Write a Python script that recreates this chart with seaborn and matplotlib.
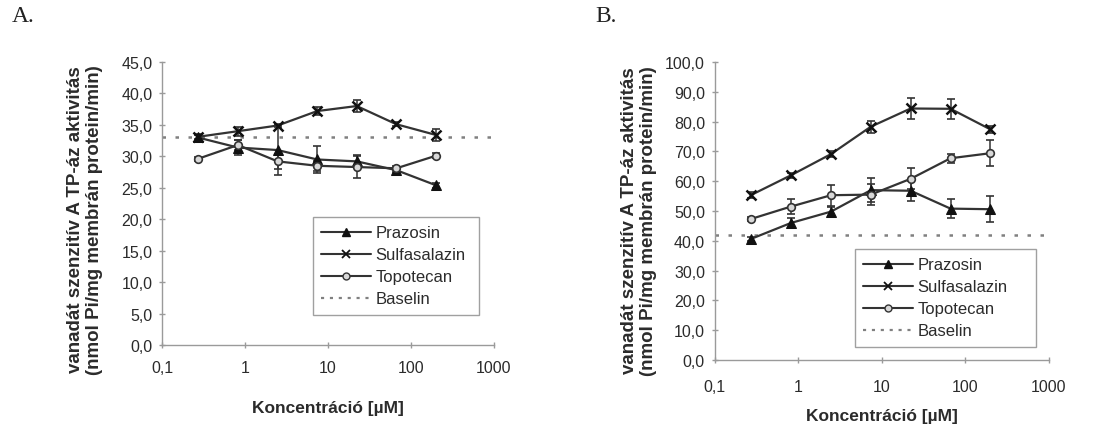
import numpy as np
import pandas as pd
import matplotlib
matplotlib.use("Agg")
import matplotlib.pyplot as plt
import seaborn as sns
from matplotlib.lines import Line2D

conc = [0.27, 0.82, 2.47, 7.41, 22.2, 66.7, 200.0]
drugs = ["Prazosin", "Sulfasalazin", "Topotecan"]

# Panel A
a_prazosin = [33.0, 31.4, 31.0, 29.5, 29.2, 27.8, 25.4]
a_prazosin_err = [0.4, 1.2, 4.0, 2.2, 1.0, 0.3, 0.4]
a_sulfa = [33.1, 34.0, 34.9, 37.2, 38.0, 35.1, 33.4]
a_sulfa_err = [0.4, 0.7, 0.3, 0.7, 1.0, 0.3, 1.0]
a_topo = [29.6, 31.8, 29.2, 28.5, 28.3, 28.1, 30.1]
a_topo_err = [0.3, 0.8, 1.2, 0.8, 1.8, 0.3, 0.4]
a_baseline = 33.0

# Panel B
b_prazosin = [40.6, 46.0, 49.8, 57.0, 56.8, 50.8, 50.6]
b_prazosin_err = [0.8, 1.6, 1.5, 4.0, 3.3, 3.3, 4.3]
b_sulfa = [55.3, 62.0, 69.1, 78.3, 84.4, 84.3, 77.4]
b_sulfa_err = [1.0, 0.8, 1.0, 2.0, 3.5, 3.3, 1.2]
b_topo = [47.3, 51.5, 55.3, 55.5, 60.8, 67.7, 69.4]
b_topo_err = [0.8, 2.4, 3.5, 3.5, 3.5, 1.5, 4.3]
b_baseline = 42.0

ylabel = "vanadát szenzitív A TP-áz aktivitás\n(nmol Pi/mg membrán protein/min)"
xlabel = "Koncentráció [µM]"
xticks = [0.1, 1, 10, 100, 1000]
xticklabels = ["0,1", "1", "10", "100", "1000"]

sns.set_theme(style="white")
plt.rcParams["font.family"] = ["Liberation Sans", "DejaVu Sans"]

TXT = "#2b2b2b"
LINE = "#333333"
AX = "#9a9a9a"

fig = plt.figure(figsize=(10.97, 4.31), dpi=100)
axA = fig.add_axes([0.1477, 0.1972, 0.3026, 0.6566])
axB = fig.add_axes([0.6515, 0.1624, 0.3045, 0.6914])

styles = {
    "Prazosin": dict(marker="^", markersize=6.5, markerfacecolor="#111111",
                     markeredgecolor="#111111"),
    "Sulfasalazin": dict(marker="x", markersize=6.5, markeredgecolor="#111111",
                         markeredgewidth=1.8),
    "Topotecan": dict(marker="o", markersize=5.5, markerfacecolor="#d8d8d8",
                      markeredgecolor=LINE, markeredgewidth=1.2),
}


def draw(ax, pz, pze, sf, sfe, tp, tpe, base, ymax, ystep, leg_box,
         tpad, xlpad, ylcoords):
    for d, vals, errs in [("Prazosin", pz, pze), ("Sulfasalazin", sf, sfe), ("Topotecan", tp, tpe)]:
        df = pd.DataFrame({"conc": conc, "val": vals})
        ax.errorbar(conc, vals, yerr=errs, fmt="none", ecolor=LINE,
                    elinewidth=1.1, capsize=3.2, capthick=1.2, zorder=2)
        sns.lineplot(data=df, x="conc", y="val", color=LINE, linewidth=1.6,
                     ax=ax, legend=False, zorder=3, **styles[d])
    ax.axhline(base, color="#808080", linestyle=(0, (1.4, 3.8)), linewidth=1.8, zorder=1)

    ax.set_xscale("log")
    ax.set_xlim(0.1, 1000)
    ax.set_ylim(0, ymax)
    ax.set_xticks(xticks)
    ax.set_xticklabels(xticklabels)
    ax.minorticks_off()
    yt = np.arange(0, ymax + 0.01, ystep)
    ax.set_yticks(yt)
    ax.set_yticklabels([f"{v:.1f}".replace(".", ",") for v in yt])
    ax.tick_params(axis="both", labelsize=11.5, colors=AX, labelcolor=TXT,
                   length=4, width=1, direction="inout", left=True, bottom=True)
    ax.tick_params(axis="y", pad=5)
    ax.tick_params(axis="x", pad=tpad)
    for s in ["top", "right"]:
        ax.spines[s].set_visible(False)
    for s in ["left", "bottom"]:
        ax.spines[s].set_color(AX)
        ax.spines[s].set_linewidth(1.0)
    ax.set_xlabel(xlabel, fontsize=12.5, fontweight="bold", color=TXT, labelpad=xlpad)
    ax.set_ylabel(ylabel, fontsize=13.5, fontweight="bold", color=TXT,
                  linespacing=1.15)
    ax.yaxis.set_label_coords(*ylcoords)

    handles = [
        Line2D([], [], color=LINE, lw=1.5, marker="^", markersize=6,
               markerfacecolor="#111111", markeredgecolor="#111111"),
        Line2D([], [], color=LINE, lw=1.5, marker="x", markersize=6,
               markeredgecolor="#111111", markeredgewidth=1.3),
        Line2D([], [], color=LINE, lw=1.5, marker="o", markersize=5,
               markerfacecolor="#d8d8d8", markeredgecolor=LINE),
        Line2D([], [], color="#808080", lw=1.6, linestyle=(0, (1.4, 2.6))),
    ]
    leg = ax.legend(handles, drugs + ["Baselin"], loc="upper left",
                    bbox_to_anchor=leg_box, mode="expand", frameon=True, fancybox=False,
                    edgecolor="#a0a0a0", fontsize=12, handlelength=3.0,
                    handletextpad=0.25, labelspacing=0.42, borderpad=0.5,
                    borderaxespad=0, framealpha=1)
    leg.get_frame().set_linewidth(1.0)
    for t in leg.get_texts():
        t.set_color(TXT)


draw(axA, a_prazosin, a_prazosin_err, a_sulfa, a_sulfa_err, a_topo, a_topo_err,
     a_baseline, 45, 5, (0.455, 0.11, 0.50, 0.342), 9, 18, (-0.178, 0.445))
draw(axB, b_prazosin, b_prazosin_err, b_sulfa, b_sulfa_err, b_topo, b_topo_err,
     b_baseline, 100, 10, (0.42, 0.044, 0.542, 0.328), 12, 10, (-0.172, 0.47))

fig.text(12 / 1097, 1 - 6 / 431, "A.", fontsize=17, family=["Liberation Serif", "DejaVu Serif"],
         color="#222222", va="top")
fig.text(595 / 1097, 1 - 6 / 431, "B.", fontsize=17, family=["Liberation Serif", "DejaVu Serif"],
         color="#222222", va="top")

fig.savefig("out.png", dpi=100, facecolor="white")
